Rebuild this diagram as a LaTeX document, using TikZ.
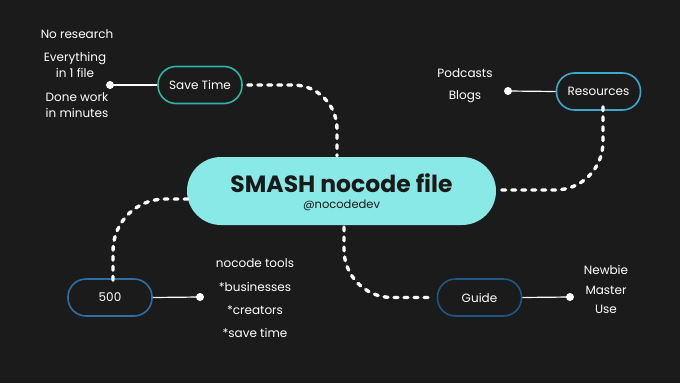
\documentclass[tikz,border=0pt]{standalone}
\usepackage{fontspec}
\setmainfont{Poppins}
\definecolor{bg}{HTML}{1B1B1B}
\definecolor{maincyan}{HTML}{88E9E7}
\definecolor{darktext}{HTML}{1A1A1A}
\definecolor{teal}{HTML}{2DB3A7}
\definecolor{lblue}{HTML}{3AA8CF}
\definecolor{mblue}{HTML}{2C6FA6}
\definecolor{dblue}{HTML}{1F5687}
\tikzset{
  pill/.style={draw=#1, line width=1.6pt, rounded corners=18pt, minimum width=84pt, minimum height=37pt, text=white, font=\fontsize{12}{14}\selectfont, inner sep=0pt},
  dotline/.style={draw=white, line width=3.4pt, line cap=round, dash pattern=on 3.8pt off 6.2pt},
  solidline/.style={draw=white, line width=1.2pt},
  dotend/.style={circle, fill=white, inner sep=0pt, minimum size=8pt},
  lbl/.style={text=white, font=\fontsize{12}{16}\selectfont, align=center, inner sep=0pt},
}
\begin{document}
\begin{tikzpicture}[x=1pt,y=-1pt]
\fill[bg] (0,0) rectangle (680,383);
\useasboundingbox (0,0) rectangle (680,383);

% main node
\node[fill=maincyan, rounded corners=34pt, minimum width=309pt, minimum height=68pt, inner sep=0pt] (main) at (341.5,191) {};
\node[text=darktext, font=\fontsize{23.5}{26}\bfseries\selectfont, inner sep=0pt] (title) at (341.5,183) {SMASH nocode file};
\node[text=darktext, font=\fontsize{11.5}{13}\selectfont, inner sep=0pt] (handle) at (341.5,205) {@nocodedev};

% pills
\node[pill=teal] (save) at (200,85) {Save Time};
\node[pill=lblue] (res) at (598.5,91.5) {Resources};
\node[pill=mblue] (five) at (110,297.5) {500};
\node[pill=dblue] (guide) at (479.5,297.5) {Guide};

% dot ends
\node[dotend] (dsave) at (110,85) {};
\node[dotend] (dres) at (508,91) {};
\node[dotend] (dfive) at (200,297) {};
\node[dotend] (dguide) at (570,297) {};

\draw[solidline] (dsave.center) -- (save.west);
\draw[solidline] (dres.center) -- (res.west);
\draw[solidline] (five.east) -- (dfive.center);
\draw[solidline] (guide.east) -- (dguide.center);

% dotted connectors
\coordinate (c1) at (337,156);
\coordinate (c2) at (497,190);
\coordinate (c3) at (188,199);
\coordinate (c4) at (344,227);
\draw[dotline, rounded corners=44pt] ([xshift=5pt]save.east) -| (c1);
\draw[dotline, rounded corners=48pt] ([yshift=4pt]res.south -| 603,0) |- (c2);
\draw[dotline, rounded corners=52pt] (c3) -| ([yshift=-4pt]five.north -| 113,0);
\draw[dotline, rounded corners=48pt] (c4) |- ([xshift=-5pt]guide.west);

% labels
\node[lbl] (l1) at (77,34) {No research};
\node[lbl] (l2) at (75,65) {Everything\\in 1 file};
\node[lbl] (l3) at (77,105) {Done work\\in minutes};
\node[lbl] (l4) at (465,73) {Podcasts};
\node[lbl] (l5) at (465,97) {Blogs};
\node[lbl] (l6) at (255,263) {nocode tools};
\node[lbl] (l7) at (255,287) {*businesses};
\node[lbl] (l8) at (255,310) {*creators};
\node[lbl] (l9) at (255,333) {*save time};
\node[lbl] (l10) at (606,270) {Newbie};
\node[lbl] (l11) at (606,290) {Master};
\node[lbl] (l12) at (606,309) {Use};
\end{tikzpicture}
\end{document}
